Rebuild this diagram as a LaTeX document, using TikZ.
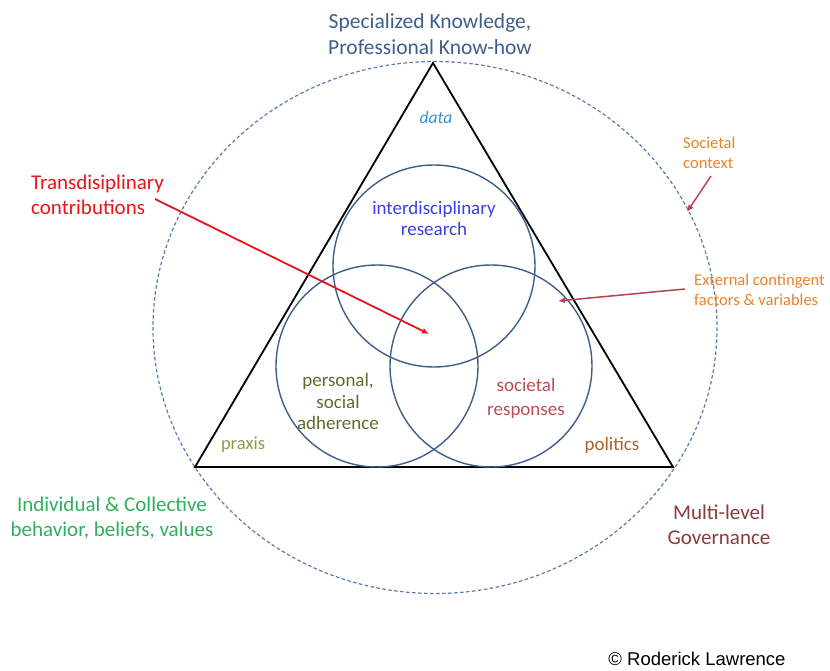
\documentclass[tikz,border=0pt]{standalone}
\usepackage{fontspec}
\setmainfont{Carlito}
\newfontfamily\arialfont{Liberation Sans}
\usetikzlibrary{arrows.meta}
\definecolor{headc}{HTML}{3F5E8C}
\definecolor{datac}{HTML}{3A8DD0}
\definecolor{interc}{HTML}{3B3FE0}
\definecolor{transc}{HTML}{E8141B}
\definecolor{orangec}{HTML}{E8822A}
\definecolor{arrc}{HTML}{B5434F}
\definecolor{persc}{HTML}{5E6B2E}
\definecolor{praxc}{HTML}{8E9B45}
\definecolor{socrc}{HTML}{C04B55}
\definecolor{polc}{HTML}{A8642E}
\definecolor{indc}{HTML}{2DB05A}
\definecolor{govc}{HTML}{8B3A3E}
\definecolor{circc}{HTML}{3E5F8A}
\definecolor{dashc}{HTML}{5B7BAA}
\tikzset{
  lbl/.style={align=center, inner sep=0pt, font=\fontsize{21}{25}\selectfont},
  small/.style={align=left, inner sep=0pt, font=\fontsize{16.5}{19.5}\selectfont, text=orangec},
  venn/.style={draw=circc, line width=1.4pt},
  ptr/.style={-{Latex[length=7pt,width=6pt]}, line width=1.8pt}
}
\begin{document}
\begin{tikzpicture}[x=1pt,y=-1pt]
\useasboundingbox (0,0) rectangle (830,671);
% outer dashed ellipse
\draw[dashc, dash pattern=on 3.5pt off 2.5pt, line width=1.2pt] (435,327.5) ellipse [x radius=282, y radius=266];
% triangle
\coordinate (A) at (433,63);
\coordinate (B) at (195,467);
\coordinate (C) at (673,467);
\draw[black, line width=1.8pt, line join=miter] (A) -- (B) -- (C) -- cycle;
% venn circles
\draw[venn] (434,266) circle [radius=101];
\draw[venn] (377,366) circle [radius=101];
\draw[venn] (491,366) circle [radius=101];
% texts
\node[lbl, text=headc, font=\fontsize{21.5}{25.5}\selectfont] (head) at (430,34) {Specialized Knowledge,\\Professional Know-how};
\node[lbl, text=datac, font=\fontsize{17.5}{20}\selectfont\itshape] (data) at (436,117) {data};
\node[lbl, text=interc, font=\fontsize{19}{21}\selectfont] (inter) at (434,218) {interdisciplinary\\research};
\node[lbl, text=transc, anchor=west, align=left] (trans) at (31,194.5) {Transdisiplinary\\contributions};
\node[small, anchor=west] (soc) at (683,153) {Societal\\context};
\node[small, anchor=west] (ext) at (694,290) {External contingent\\factors \& variables};
\node[lbl, text=persc, font=\fontsize{19}{21.5}\selectfont] (pers) at (338,401.5) {personal,\\social\\adherence};
\node[lbl, text=socrc, font=\fontsize{19}{24}\selectfont] (socr) at (526,398) {societal\\responses};
\node[lbl, text=praxc, font=\fontsize{18.5}{20}\selectfont] (prax) at (243,445) {praxis};
\node[lbl, text=polc, font=\fontsize{19}{20}\selectfont] (pol) at (612,445) {politics};
\node[lbl, text=indc] (ind) at (112,518.5) {Individual \& Collective\\behavior, beliefs, values};
\node[lbl, text=govc] (gov) at (719,524.5) {Multi-level\\Governance};
\node[inner sep=0pt, font=\arialfont\fontsize{18.5}{20}\selectfont] (copy) at (697,659) {\textcopyright\ Roderick Lawrence};
% arrows
\coordinate (t1) at (155,199);
\coordinate (t2) at (429,334);
\draw[ptr, transc] (t1) -- (t2);
\coordinate (s1) at (711,176);
\coordinate (s2) at (687,212);
\draw[ptr, arrc, line width=1.5pt] (s1) -- (s2);
\coordinate (e1) at (685,289);
\coordinate (e2) at (558,301);
\draw[ptr, arrc, line width=1.5pt] (e1) -- (e2);
\end{tikzpicture}
\end{document}
